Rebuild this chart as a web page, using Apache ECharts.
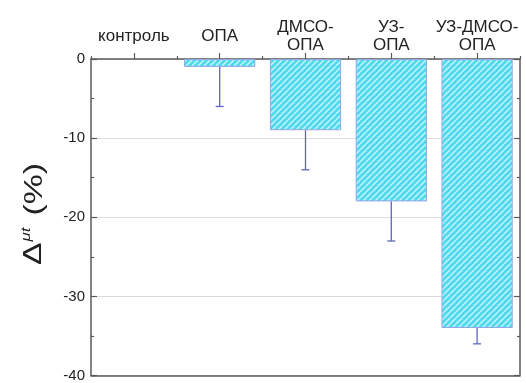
<!DOCTYPE html>
<html>
<head>
<meta charset="utf-8">
<script src="https://cdn.jsdelivr.net/npm/echarts@6/dist/echarts.min.js"></script>
<style>
  html, body { margin: 0; padding: 0; background: #fff; }
  #chart { width: 526px; height: 383px; }
</style>
</head>
<body>
<div id="chart"></div>
<script>
// Treatment groups (shown along the top axis)
const categories = ['контроль', 'ОПА', 'ДМСО-\nОПА', 'УЗ-\nОПА', 'УЗ-ДМСО-\nОПА'];
// Relative change of μt, %
const values = [0, -1, -9, -18, -34];
// Error magnitudes (drawn downward from each bar end)
const errors = [0, 5, 5, 5, 2];
// Value-axis ticks
const yMin = -40, yMax = 0, yStep = 10;

// Diagonal hatch used to fill the bars
function hatchPattern() {
  const s = 6;
  const c = document.createElement('canvas');
  c.width = s; c.height = s;
  const g = c.getContext('2d');
  g.fillStyle = '#4fd8ee';
  g.fillRect(0, 0, s, s);
  g.strokeStyle = '#b8f3fb';
  g.lineWidth = 1.6;
  for (const o of [-s, 0, s]) {
    g.beginPath();
    g.moveTo(o, s);
    g.lineTo(o + s, 0);
    g.stroke();
  }
  return c;
}

const axisColor = '#5a5a5a';
const errColor = '#5e66b8';
const font = 'Liberation Sans, Arial, sans-serif';

const chart = echarts.init(document.getElementById('chart'), null, { renderer: 'canvas' });

const option = {
  animation: false,
  grid: { left: 91, right: 6, top: 59, bottom: 6 },
  xAxis: [
    {
      type: 'category',
      position: 'top',
      data: categories,
      axisLine: { show: true, lineStyle: { color: axisColor, width: 1.5 } },
      axisTick: { show: true, alignWithLabel: true, length: 6, inside: false, lineStyle: { color: axisColor, width: 1.2 } },
      axisLabel: {
        show: true,
        interval: 0,
        fontFamily: font,
        fontSize: 17,
        lineHeight: 18,
        color: '#222',
        margin: 23,
        verticalAlign: 'middle'
      },
      splitLine: { show: false }
    },
    {
      type: 'category',
      position: 'top',
      data: categories,
      axisLine: { show: false },
      axisTick: { show: true, length: 3, lineStyle: { color: axisColor, width: 1.2 } },
      axisLabel: { show: false },
      splitLine: { show: false }
    },
    {
      type: 'category',
      position: 'bottom',
      data: categories,
      axisLine: { show: true, lineStyle: { color: axisColor, width: 1.5 } },
      axisTick: { show: false },
      axisLabel: { show: false },
      splitLine: { show: false }
    }
  ],
  yAxis: [
    {
      type: 'value',
      position: 'left',
      min: yMin, max: yMax, interval: yStep,
      axisLine: { show: true, lineStyle: { color: axisColor, width: 1.5 } },
      axisTick: { show: true, inside: true, length: 6, lineStyle: { color: axisColor, width: 1.2 } },
      minorTick: { show: true, splitNumber: 2, length: 3, lineStyle: { color: axisColor, width: 1.2 } },
      axisLabel: {
        fontFamily: font,
        fontSize: 15,
        color: '#222',
        margin: 6
      },
      splitLine: { show: true, lineStyle: { color: '#dcdcdc', width: 1.2 } }
    },
    {
      type: 'value',
      position: 'right',
      min: yMin, max: yMax, interval: yStep,
      axisLine: { show: true, lineStyle: { color: axisColor, width: 1.5 } },
      axisTick: { show: true, inside: true, length: 6, lineStyle: { color: axisColor, width: 1.2 } },
      minorTick: { show: true, splitNumber: 2, length: 3, lineStyle: { color: axisColor, width: 1.2 } },
      axisLabel: { show: false },
      splitLine: { show: false }
    }
  ],
  series: [
    {
      type: 'bar',
      xAxisIndex: 0,
      yAxisIndex: 0,
      // a zero change has no bar to draw
      data: values.map(v => (v === 0 ? '-' : v)),
      barWidth: '83%',
      itemStyle: {
        color: { image: hatchPattern(), repeat: 'repeat' },
        borderColor: '#94a6e6',
        borderWidth: 1
      },
      z: 2
    },
    {
      type: 'custom',
      xAxisIndex: 0,
      yAxisIndex: 0,
      data: values.map((v, i) => [i, v, v - errors[i]]),
      encode: { x: 0, y: [1, 2] },
      renderItem: function (params, api) {
        const i = api.value(0);
        if (api.value(1) === api.value(2)) return null;
        const top = api.coord([i, api.value(1)]);
        const bot = api.coord([i, api.value(2)]);
        const half = 4;
        const style = { stroke: errColor, lineWidth: 1.3 };
        return {
          type: 'group',
          children: [
            { type: 'line', shape: { x1: top[0], y1: top[1], x2: bot[0], y2: bot[1] }, style: style },
            { type: 'line', shape: { x1: bot[0] - half, y1: bot[1], x2: bot[0] + half, y2: bot[1] }, style: style }
          ]
        };
      },
      z: 3
    }
  ],
  graphic: [
    {
      type: 'group',
      x: 34,
      y: 265,
      rotation: Math.PI / 2,
      scaleX: 1.3,
      children: [
        {
          type: 'text',
          x: 0, y: 0,
          style: { text: 'Δ', fontFamily: font, fontSize: 26, fill: '#222', align: 'left', verticalAlign: 'middle' }
        },
        {
          type: 'text',
          x: 18, y: -8,
          style: { text: 'μt', fontFamily: font, fontSize: 13, fontStyle: 'italic', fill: '#222', align: 'left', verticalAlign: 'middle' }
        },
        {
          type: 'text',
          x: 38, y: 1,
          style: { text: '(%)', fontFamily: font, fontSize: 26, fill: '#222', align: 'left', verticalAlign: 'middle' }
        }
      ]
    }
  ]
};

chart.setOption(option);
</script>
</body>
</html>
